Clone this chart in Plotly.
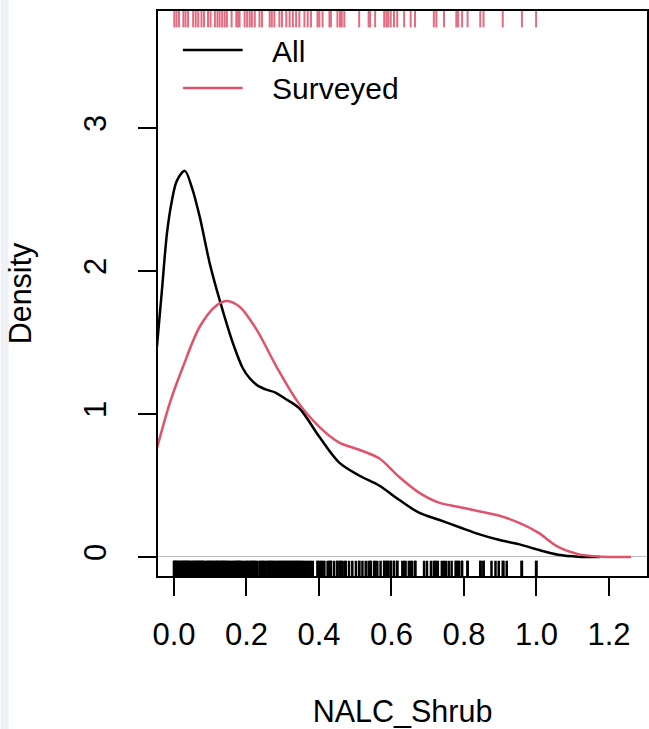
import plotly.graph_objects as go

# ---- density curve of all sites ----
all_x = [-0.047, -0.033, -0.019, -0.005, 0.008, 0.030, 0.050, 0.071, 0.099, 0.128,
         0.162, 0.190, 0.209, 0.230, 0.255, 0.280, 0.305, 0.346, 0.401, 0.456,
         0.511, 0.566, 0.621, 0.676, 0.731, 0.786, 0.841, 0.896, 0.951, 1.005,
         1.060, 1.115, 1.176]
all_y = [1.47, 1.87, 2.27, 2.50, 2.63, 2.70, 2.58, 2.38, 2.05, 1.78,
         1.50, 1.32, 1.25, 1.20, 1.17, 1.15, 1.11, 1.04, 0.84, 0.66,
         0.57, 0.50, 0.40, 0.31, 0.26, 0.21, 0.16, 0.12, 0.09, 0.05,
         0.016, 0.002, 0.0]

# ---- density curve of surveyed sites ----
surv_x = [-0.047, -0.011, 0.025, 0.071, 0.118, 0.146, 0.181, 0.228, 0.283, 0.340,
          0.401, 0.456, 0.511, 0.566, 0.621, 0.676, 0.731, 0.786, 0.841, 0.896,
          0.951, 1.005, 1.060, 1.115, 1.170, 1.210, 1.261]
surv_y = [0.76, 1.08, 1.33, 1.61, 1.76, 1.79, 1.75, 1.59, 1.33, 1.09,
          0.91, 0.80, 0.75, 0.69, 0.56, 0.45, 0.38, 0.35, 0.32, 0.29,
          0.24, 0.17, 0.07, 0.02, 0.003, 0.0, 0.0]

# ---- rug values ----
surveyed_rug = [0.001, 0.007, 0.014, 0.026, 0.032, 0.039, 0.053, 0.060, 0.067, 0.076,
                0.083, 0.094, 0.101, 0.113, 0.120, 0.126, 0.133, 0.140, 0.146, 0.159,
                0.172, 0.177, 0.181, 0.195, 0.202, 0.209, 0.215, 0.223, 0.236, 0.243,
                0.264, 0.270, 0.277, 0.291, 0.298, 0.310, 0.319, 0.328, 0.337, 0.346,
                0.360, 0.369, 0.378, 0.396, 0.401, 0.410, 0.429, 0.433, 0.451, 0.458,
                0.463, 0.470, 0.511, 0.537, 0.541, 0.555, 0.580, 0.586, 0.591, 0.598,
                0.607, 0.616, 0.635, 0.653, 0.665, 0.717, 0.724, 0.745, 0.779, 0.784,
                0.795, 0.810, 0.845, 0.854, 0.907, 0.960, 0.999]
all_only_rug = [0.000, 0.003, 0.005, 0.009, 0.012, 0.016, 0.019, 0.022, 0.024, 0.028,
                0.031, 0.035, 0.037, 0.041, 0.044, 0.047, 0.050, 0.055, 0.058, 0.062,
                0.065, 0.069, 0.072, 0.074, 0.079, 0.081, 0.088, 0.091, 0.096, 0.099,
                0.104, 0.107, 0.110, 0.116, 0.118, 0.123, 0.129, 0.131, 0.136, 0.138,
                0.143, 0.149, 0.152, 0.155, 0.163, 0.166, 0.169, 0.175, 0.179, 0.184,
                0.187, 0.190, 0.199, 0.205, 0.212, 0.218, 0.220, 0.226, 0.230, 0.239,
                0.246, 0.249, 0.253, 0.258, 0.261, 0.267, 0.273, 0.280, 0.284, 0.288,
                0.294, 0.300, 0.304, 0.307, 0.313, 0.316, 0.322, 0.325, 0.331, 0.334,
                0.340, 0.343, 0.349, 0.353, 0.356,
                0.365, 0.374, 0.383, 0.397, 0.406, 0.415, 0.424, 0.433, 0.442, 0.451,
                0.460, 0.474, 0.483, 0.492, 0.502, 0.511, 0.520, 0.529, 0.543, 0.552,
                0.561, 0.570, 0.580, 0.589, 0.598, 0.607, 0.616, 0.630, 0.639, 0.648,
                0.657, 0.666,
                0.690, 0.698, 0.709, 0.720, 0.728, 0.739, 0.750, 0.758, 0.766, 0.777,
                0.786, 0.794, 0.810, 0.846, 0.854, 0.876, 0.887, 0.896, 0.909, 0.918,
                0.959, 1.000]
all_rug = sorted(surveyed_rug + all_only_rug)

x_ticks = [0.0, 0.2, 0.4, 0.6, 0.8, 1.0, 1.2]
x_tick_labels = ["0.0", "0.2", "0.4", "0.6", "0.8", "1.0", "1.2"]
y_ticks = [0, 1, 2, 3]
y_tick_labels = ["0", "1", "2", "3"]

series_names = ["All", "Surveyed"]
BLACK = "#000000"
RED = "#DF536B"
FONT = "Liberation Sans, Arial, Helvetica, sans-serif"


def rug_xy(vals, y0, y1):
    xs, ys = [], []
    for v in vals:
        xs += [v, v, None]
        ys += [y0, y1, None]
    return xs, ys


fig = go.Figure()

bx, by = rug_xy(all_rug, 0.0, 0.027)
fig.add_trace(go.Scatter(x=bx, y=by, yaxis="y2", mode="lines",
                         line=dict(color=BLACK, width=2.5),
                         showlegend=False, hoverinfo="skip"))
tx, ty = rug_xy(surveyed_rug, 0.971, 1.0)
fig.add_trace(go.Scatter(x=tx, y=ty, yaxis="y2", mode="lines",
                         line=dict(color=RED, width=2), opacity=0.85,
                         showlegend=False, hoverinfo="skip"))

fig.add_trace(go.Scatter(x=all_x, y=all_y, mode="lines", name=series_names[0],
                         line=dict(color=BLACK, width=2.5, shape="spline", smoothing=0.9)))
fig.add_trace(go.Scatter(x=surv_x, y=surv_y, mode="lines", name=series_names[1],
                         line=dict(color=RED, width=2.5, shape="spline", smoothing=0.9)))

# legend drawn R-style (no box, long line keys)
shapes = [
    dict(type="rect", xref="paper", yref="paper",
         x0=-158 / 491, x1=-150 / 491, y0=-153 / 565, y1=1 + 11 / 565,
         fillcolor="#EEF1F5", line=dict(width=0), layer="below"),
    dict(type="line", xref="paper", yref="paper", x0=25 / 491, x1=85 / 491,
         y0=526 / 565, y1=526 / 565, line=dict(color=BLACK, width=2.5)),
    dict(type="line", xref="paper", yref="paper", x0=25 / 491, x1=85 / 491,
         y0=488 / 565, y1=488 / 565, line=dict(color=RED, width=2.5)),
]
annotations = [
    dict(text=series_names[0], xref="paper", yref="paper", x=112 / 491, y=525 / 565,
         xanchor="left", yanchor="middle", showarrow=False,
         font=dict(family=FONT, size=30, color=BLACK)),
    dict(text=series_names[1], xref="paper", yref="paper", x=112 / 491, y=487 / 565,
         xanchor="left", yanchor="middle", showarrow=False,
         font=dict(family=FONT, size=30, color=BLACK)),
]

fig.update_layout(
    width=649, height=729,
    margin=dict(l=158, r=0, t=11, b=153),
    paper_bgcolor="white", plot_bgcolor="white",
    showlegend=False,
    font=dict(family=FONT, size=30, color=BLACK),
    shapes=shapes, annotations=annotations,
    xaxis=dict(range=[-0.044, 1.305], tickvals=x_ticks, ticktext=x_tick_labels,
               tickfont=dict(family=FONT, size=31, color=BLACK),
               ticks="outside", ticklen=18, tickwidth=2, tickcolor=BLACK,
               showline=True, linecolor=BLACK, linewidth=2, mirror=True,
               showgrid=False, zeroline=False, ticklabelstandoff=12,
               title=dict(text="NALC_Shrub", standoff=49,
                          font=dict(family=FONT, size=30.5, color=BLACK))),
    yaxis=dict(range=[-0.133, 3.818], tickvals=y_ticks, ticktext=y_tick_labels,
               tickfont=dict(family=FONT, size=31, color=BLACK),
               tickangle=-90,
               ticks="outside", ticklen=18, tickwidth=2, tickcolor=BLACK,
               showline=True, linecolor=BLACK, linewidth=2, mirror=True,
               showgrid=False, zeroline=True, zerolinecolor="#BEBEBE", zerolinewidth=1,
               ticklabelstandoff=20,
               title=dict(text="Density", standoff=37,
                          font=dict(family=FONT, size=30.5, color=BLACK))),
    yaxis2=dict(range=[0, 1], overlaying="y", visible=False, fixedrange=True),
)

fig.write_html("out.html")
